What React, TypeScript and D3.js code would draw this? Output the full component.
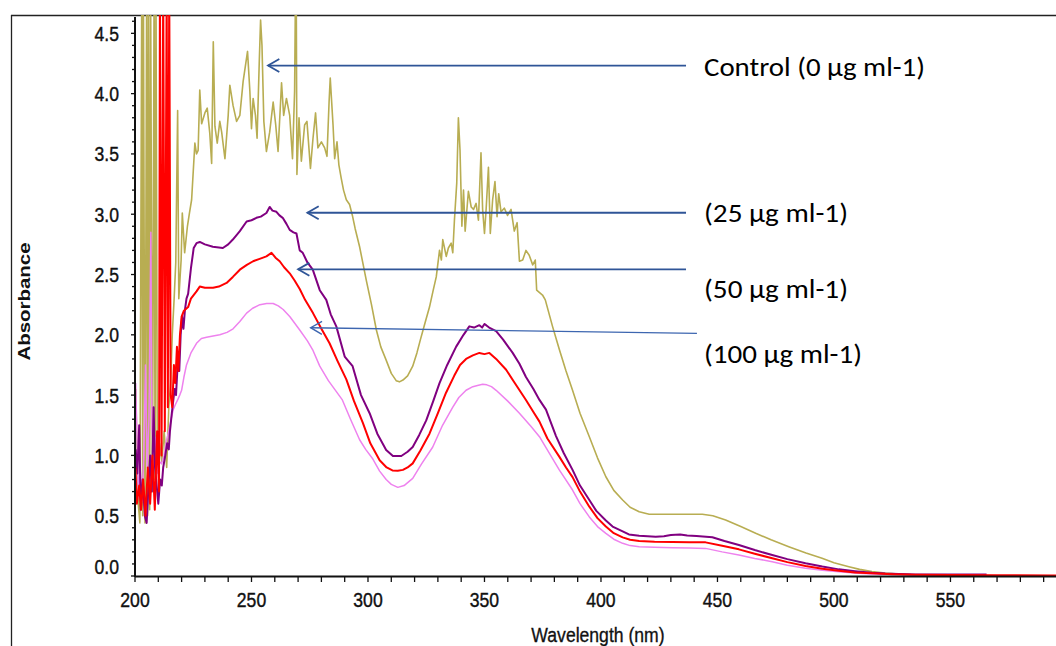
import React from "react";
import * as d3 from "d3";

// ---------- DATA (wavelength nm, absorbance) ----------
const control: [number, number][] = [
  [200.3, 1.55], [200.8, 1.1], [201.4, 0.6], [202.1, 0.44], [202.9, 4.9], [203.3, 0.5], [203.6, 4.9], [204.3, 0.44],
  [205.0, 4.9], [205.4, 0.5], [205.8, 4.9], [206.3, 0.55], [206.7, 4.9], [207.5, 0.7], [208.2, 4.9], [208.6, 0.8],
  [209.0, 4.9], [209.6, 0.9], [210.5, 1.1],
  [211.5, 0.95], [212.5, 1.2], [213.6, 0.9], [214.5, 1.4], [215.3, 1.6], [216.0, 2.0], [216.8, 2.3],
  [217.5, 2.6], [218.3, 3.86], [218.8, 2.3], [219.8, 2.62], [220.3, 3.01], [221.3, 2.68], [222.5, 2.9],
  [223.3, 3.0], [224.3, 3.12], [225.7, 3.59], [226.4, 3.5], [227.1, 3.53], [227.8, 4.03], [228.6, 3.75],
  [230.0, 3.84], [231.0, 3.88], [232.1, 3.67], [232.9, 3.42], [233.6, 4.43], [234.3, 3.73], [235.3, 3.59],
  [236.4, 3.77], [237.2, 3.68], [238.6, 3.46], [240.0, 3.82], [240.7, 4.07], [242.1, 3.9], [243.6, 3.77],
  [245.0, 3.82], [246.4, 4.1], [248.3, 4.35], [249.3, 4.02], [250.0, 3.71], [250.7, 3.96], [251.7, 3.82],
  [252.4, 3.63], [253.3, 4.24], [253.9, 4.61], [254.5, 4.4], [255.3, 3.77], [256.4, 3.52], [257.8, 3.68],
  [259.3, 3.93], [260.4, 3.74], [261.4, 3.52], [262.9, 4.09], [263.8, 3.82], [265.0, 3.96], [266.4, 3.82],
  [267.6, 3.46], [268.5, 4.02], [268.9, 4.9], [269.2, 4.9], [269.5, 3.33], [270.4, 3.8], [271.4, 3.44],
  [272.8, 3.74], [273.8, 3.77], [275.3, 3.38], [276.4, 3.63], [277.5, 3.84], [278.5, 3.55], [280.0, 3.6],
  [281.4, 3.55], [282.4, 3.48], [283.3, 3.93], [283.8, 4.13], [285.0, 3.74], [285.7, 3.46], [286.7, 3.6],
  [287.5, 3.41], [288.5, 3.3], [289.5, 3.2], [290.7, 3.12], [292.1, 3.08], [293.3, 2.99], [294.5, 2.88],
  [296.4, 2.73], [299.3, 2.45], [301.5, 2.25], [303.6, 2.04], [305.5, 1.9], [307.8, 1.79], [310.0, 1.68],
  [312.1, 1.62], [313.5, 1.61], [315.0, 1.625], [317.0, 1.66], [319.2, 1.74], [321.0, 1.85], [322.5, 1.96],
  [324.5, 2.1], [326.4, 2.23], [328.0, 2.37], [329.3, 2.48], [330.7, 2.7], [331.5, 2.62], [332.1, 2.79],
  [333.6, 2.65], [334.5, 2.72], [335.7, 2.76], [336.4, 2.68], [337.1, 2.95], [338.1, 3.26], [338.8, 3.8],
  [339.5, 3.53], [340.3, 2.9], [341.0, 3.2], [341.7, 2.86], [343.1, 3.19], [344.3, 3.06], [345.3, 3.04],
  [346.4, 3.09], [347.4, 2.95], [348.5, 3.51], [349.2, 3.04], [350.0, 2.84], [350.7, 3.04], [351.7, 3.39],
  [352.5, 2.84], [353.5, 3.12], [354.5, 3.27], [355.4, 2.98], [356.1, 3.17], [357.1, 3.02], [358.5, 3.05],
  [359.9, 2.99], [361.4, 3.04], [362.8, 2.86], [364.0, 2.93], [365.0, 2.61], [366.4, 2.62], [367.8, 2.7],
  [369.2, 2.66], [370.7, 2.58], [371.8, 2.62], [372.4, 2.37], [374.9, 2.33], [376.1, 2.29], [379.2, 2.07],
  [382.1, 1.88], [385.0, 1.7], [387.8, 1.54], [391.0, 1.35], [395.0, 1.155], [398.5, 0.98], [402.1, 0.823],
  [405.5, 0.71], [409.3, 0.63], [412.5, 0.57], [416.4, 0.533], [420.7, 0.512], [430.7, 0.512], [443.5, 0.512],
  [448.0, 0.5], [453.5, 0.464], [460.0, 0.41], [466.4, 0.354], [473.0, 0.3], [480.6, 0.243], [488.0, 0.19],
  [494.9, 0.147], [500.0, 0.11], [506.4, 0.077], [511.0, 0.055], [516.3, 0.036], [522.0, 0.025],
  [527.8, 0.017], [533.0, 0.012],
];

const conc25: [number, number][] = [
  [200.3, 1.05], [201.0, 0.85], [201.8, 1.25], [202.5, 0.55], [203.3, 0.8], [204.2, 0.5], [205.0, 0.44],
  [205.8, 0.75], [206.5, 1.0], [207.2, 0.7], [208.0, 1.4], [208.6, 0.9], [209.3, 0.75], [210.0, 0.6],
  [210.8, 0.8], [211.5, 0.75], [212.1, 0.9], [213.0, 1.0], [213.8, 1.1], [214.5, 1.05], [215.0, 1.2],
  [215.8, 1.35], [216.4, 1.45], [217.0, 1.55], [217.6, 1.5], [218.3, 1.75], [219.0, 1.7], [219.6, 2.0],
  [220.2, 2.15], [220.8, 2.05], [221.4, 2.2], [222.1, 2.3], [222.8, 2.34], [224.0, 2.55], [225.2, 2.72],
  [226.4, 2.76], [227.8, 2.77], [230.0, 2.75], [233.4, 2.73], [237.7, 2.72], [240.0, 2.75], [242.0, 2.79],
  [245.0, 2.86], [247.9, 2.94], [250.0, 2.95], [252.1, 2.97], [254.0, 2.98], [256.4, 3.01], [257.8, 3.06],
  [259.0, 3.03], [260.7, 3.02], [262.0, 2.99], [263.4, 2.97], [265.0, 2.92], [266.4, 2.87], [268.0, 2.85],
  [269.3, 2.84], [270.7, 2.7], [272.0, 2.68], [274.0, 2.6], [276.3, 2.54], [279.3, 2.37], [282.1, 2.29],
  [284.0, 2.17], [286.4, 2.07], [290.0, 1.82], [293.4, 1.74], [297.0, 1.5], [300.7, 1.35], [304.0, 1.18],
  [307.8, 1.045], [310.7, 0.995], [314.3, 0.995], [317.0, 1.03], [319.2, 1.07], [322.0, 1.17], [325.0, 1.29],
  [328.0, 1.45], [330.7, 1.6], [334.0, 1.75], [337.8, 1.9], [341.0, 2.0], [343.5, 2.07], [345.5, 2.06],
  [347.8, 2.08], [349.0, 2.06], [350.0, 2.09], [350.7, 2.08], [352.0, 2.06], [355.0, 2.03], [358.0, 1.96],
  [362.1, 1.85], [365.0, 1.76], [367.8, 1.65], [371.0, 1.55], [373.6, 1.46], [376.4, 1.38], [380.7, 1.16],
  [384.0, 1.02], [387.8, 0.88], [391.0, 0.75], [395.0, 0.63], [398.0, 0.54], [402.1, 0.46], [405.0, 0.41],
  [409.3, 0.37], [412.0, 0.345], [416.4, 0.334], [420.0, 0.33], [423.5, 0.326], [427.0, 0.33], [430.0, 0.34],
  [434.0, 0.345], [437.0, 0.335], [441.0, 0.332], [447.8, 0.321], [453.0, 0.29], [459.2, 0.257], [466.0, 0.215],
  [473.5, 0.174], [480.0, 0.14], [487.8, 0.105], [495.0, 0.078], [502.1, 0.055], [509.0, 0.04], [516.3, 0.027],
  [522.0, 0.02], [527.8, 0.017], [535.0, 0.013], [545.0, 0.012], [555.0, 0.012], [565.5, 0.012],
];

const conc50: [number, number][] = [
  [200.2, 0.9], [200.8, 0.6], [201.8, 0.75], [202.6, 0.55], [203.5, 0.8], [204.5, 0.5], [205.5, 0.9],
  [206.5, 0.6], [207.5, 1.0], [208.5, 0.55], [209.5, 1.2], [210.3, 0.7], [210.7, 4.9], [211.4, 1.0],
  [212.1, 4.9], [212.8, 1.2], [213.6, 4.9], [214.1, 1.4], [214.7, 4.9], [215.3, 1.5], [216.0, 1.4],
  [216.7, 1.75], [217.3, 1.6], [218.0, 1.9], [218.6, 1.7], [219.3, 2.0], [220.0, 2.15], [221.0, 2.2],
  [222.8, 2.23], [224.0, 2.3], [226.4, 2.36], [227.8, 2.4], [230.0, 2.39], [233.5, 2.39], [236.0, 2.4],
  [239.3, 2.43], [242.0, 2.48], [245.0, 2.54], [248.0, 2.58], [250.7, 2.61], [253.5, 2.63], [256.4, 2.65],
  [258.6, 2.68], [260.3, 2.64], [262.1, 2.61], [264.0, 2.56], [266.4, 2.51], [268.5, 2.45], [270.7, 2.38],
  [273.0, 2.29], [276.4, 2.18], [280.0, 2.05], [283.5, 1.93], [287.0, 1.78], [290.7, 1.63], [294.0, 1.45],
  [297.8, 1.27], [301.0, 1.1], [305.0, 0.96], [308.0, 0.9], [310.5, 0.875], [312.8, 0.873], [315.0, 0.88],
  [317.0, 0.9], [319.2, 0.934], [322.5, 1.04], [326.4, 1.18], [330.0, 1.35], [333.5, 1.52], [337.0, 1.66],
  [339.5, 1.75], [342.1, 1.8], [345.0, 1.83], [347.8, 1.85], [350.0, 1.84], [352.1, 1.85], [355.0, 1.8],
  [359.3, 1.71], [363.0, 1.6], [367.8, 1.46], [371.0, 1.36], [373.6, 1.28], [377.0, 1.14], [382.1, 0.99],
  [385.0, 0.9], [387.8, 0.82], [391.0, 0.7], [395.0, 0.575], [398.5, 0.48], [402.1, 0.41], [405.5, 0.355],
  [409.3, 0.32], [412.5, 0.3], [416.4, 0.29], [423.0, 0.283], [430.7, 0.282], [438.0, 0.28], [444.9, 0.279],
  [452.0, 0.25], [459.2, 0.221], [466.0, 0.185], [473.5, 0.147], [480.0, 0.115], [487.8, 0.083], [495.0, 0.06],
  [502.1, 0.044], [509.0, 0.03], [516.3, 0.022], [525.0, 0.015], [535.0, 0.01], [550.0, 0.008], [570.0, 0.006],
  [596.0, 0.005],
];

const conc100: [number, number][] = [
  [200.3, 1.6], [200.9, 1.1], [201.5, 0.65], [202.2, 0.9], [203.0, 0.62], [203.8, 1.0], [204.5, 1.75],
  [205.2, 0.9], [206.0, 1.3], [206.8, 2.85], [207.3, 1.2], [208.2, 1.0], [209.0, 1.15], [209.8, 0.85],
  [210.5, 0.95], [211.4, 0.93], [212.5, 1.0], [213.6, 1.13], [214.5, 1.2], [215.5, 1.3], [216.4, 1.38],
  [217.3, 1.42], [218.3, 1.46], [219.2, 1.5], [220.0, 1.54], [221.0, 1.65], [222.1, 1.75], [224.0, 1.85],
  [226.4, 1.93], [228.5, 1.97], [230.7, 1.98], [233.5, 1.99], [236.4, 2.0], [239.5, 2.02], [242.1, 2.05],
  [245.0, 2.11], [247.9, 2.18], [250.5, 2.22], [253.6, 2.25], [256.5, 2.26], [259.3, 2.26], [261.5, 2.24],
  [263.6, 2.21], [266.5, 2.15], [270.7, 2.04], [274.0, 1.95], [276.4, 1.87], [279.3, 1.74], [283.0, 1.62],
  [289.0, 1.46], [292.5, 1.3], [296.4, 1.13], [299.0, 1.05], [302.1, 0.97], [305.0, 0.87], [307.8, 0.8],
  [310.0, 0.76], [312.8, 0.735], [315.5, 0.75], [319.2, 0.81], [323.0, 0.93], [327.8, 1.07], [332.0, 1.25],
  [336.4, 1.4], [339.0, 1.48], [342.1, 1.54], [345.0, 1.57], [347.0, 1.58], [349.2, 1.59], [351.0, 1.585],
  [353.0, 1.57], [355.0, 1.54], [360.0, 1.45], [365.0, 1.35], [370.0, 1.24], [373.6, 1.155], [376.4, 1.065],
  [382.1, 0.88], [387.8, 0.713], [391.0, 0.6], [395.0, 0.49], [398.5, 0.41], [402.1, 0.354], [405.5, 0.305],
  [409.3, 0.271], [412.5, 0.252], [416.4, 0.243], [423.0, 0.238], [430.7, 0.235], [438.0, 0.232], [444.9, 0.229],
  [452.0, 0.2], [459.2, 0.174], [466.0, 0.146], [473.5, 0.119], [480.0, 0.09], [487.8, 0.064], [495.0, 0.048],
  [502.1, 0.036], [509.0, 0.025], [516.3, 0.017], [525.0, 0.012], [535.0, 0.01],
];

const seriesColors = ["#b8ad52", "#800080", "#ff0000", "#ee82ee"];
const seriesWidths = [1.6, 2, 2, 1.5];

const xTickValues = [200, 250, 300, 350, 400, 450, 500, 550];
const yTickValues = [0, 0.5, 1, 1.5, 2, 2.5, 3, 3.5, 4, 4.5];

const annotationLabels = ["Control (0 µg ml-1)", "(25 µg ml-1)", "(50 µg ml-1)", "(100 µg ml-1)"];
// arrow tips and tails in data units (wavelength nm, absorbance)
const arrowTip: [number, number][] = [[257.1, 4.233], [274.0, 3.012], [270.0, 2.543], [275.4, 2.059]];
const arrowTail: [number, number][] = [[436.5, 4.233], [436.5, 3.012], [436.5, 2.543], [441.2, 2.012]];
const labelBaseline = [4.146, 2.935, 2.305, 1.766];
const labelWidths = [221, 144, 144, 158];

// ---------- LAYOUT ----------
const W = 1056;
const H = 646;
const plotLeft = 135;
const plotRight = 1056;
const plotTop = 15;
const plotBottom = 576;

export default function App() {
  const x = d3.scaleLinear().domain([200, 595.3]).range([plotLeft, plotRight]);
  const y = d3.scaleLinear().domain([0, 4.652]).range([plotBottom, plotTop]);

  const line = d3
    .line<[number, number]>()
    .x((d) => x(d[0]))
    .y((d) => y(d[1]));

  const allSeries = [control, conc100, conc25, conc50];
  const order = [0, 3, 1, 2];

  const xMinor = d3.range(200, 596, 10);
  const yMinor = d3.range(0, 46.5, 1).map((v) => v / 10);

  const tickFont = "'Liberation Sans', Arial, sans-serif";
  const annFont = "Carlito, Calibri, Lato, 'Open Sans', sans-serif";

  return (
    <svg
      width={W}
      height={H}
      style={{ position: "fixed", left: 0, top: 0, background: "#fff" }}
    >
      <rect x={0} y={0} width={W} height={H} fill="#fff" />
      <defs>
        <clipPath id="plotClip">
          <rect x={plotLeft} y={plotTop} width={plotRight - plotLeft} height={plotBottom - plotTop} />
        </clipPath>
      </defs>

      {/* outer frame */}
      <line x1={11} y1={15.5} x2={W} y2={15.5} stroke="#222" strokeWidth={1.3} />
      <line x1={11.5} y1={15} x2={11.5} y2={H} stroke="#222" strokeWidth={1.3} />

      {/* series */}
      <g clipPath="url(#plotClip)">
        {allSeries.map((s, i) => (
          <path
            key={i}
            d={line(s) || ""}
            fill="none"
            stroke={seriesColors[order[i]]}
            strokeWidth={seriesWidths[order[i]]}
            strokeLinejoin="round"
          />
        ))}
      </g>

      {/* axes */}
      <line x1={plotLeft} y1={plotTop + 2} x2={plotLeft} y2={plotBottom + 1} stroke="#111" strokeWidth={2} />
      <line x1={plotLeft} y1={plotBottom + 0.5} x2={plotRight} y2={plotBottom + 0.5} stroke="#111" strokeWidth={2} />

      {yMinor.map((v, i) => (
        <line
          key={"ym" + i}
          x1={plotLeft - (i % 5 === 0 ? 4 : 3)}
          x2={plotLeft}
          y1={y(v)}
          y2={y(v)}
          stroke="#111"
          strokeWidth={1.3}
        />
      ))}
      {xMinor.map((v, i) => (
        <line
          key={"xm" + i}
          x1={x(v)}
          x2={x(v)}
          y1={plotBottom}
          y2={plotBottom + 6}
          stroke="#111"
          strokeWidth={1.3}
        />
      ))}

      {yTickValues.map((v) => (
        <text
          key={"yt" + v}
          transform={`translate(${plotLeft - 16},${y(v) + 7.5 - (v === 0 ? 10 : 0)}) scale(1,1.2)`}
          textAnchor="end"
          fontFamily={tickFont}
          fontSize={17.6}
          fill="#111"
          stroke="#111"
          strokeWidth={0.35}
        >
          {v.toFixed(1)}
        </text>
      ))}
      {xTickValues.map((v) => (
        <text
          key={"xt" + v}
          transform={`translate(${x(v)},${plotBottom + 31}) scale(1,1.2)`}
          textAnchor="middle"
          fontFamily={tickFont}
          fontSize={17.6}
          fill="#111"
          stroke="#111"
          strokeWidth={0.35}
        >
          {v}
        </text>
      ))}

      {/* axis titles */}
      <text
        transform={`translate(30,${(plotTop + plotBottom) / 2 + 6}) rotate(-90)`}
        textAnchor="middle"
        fontFamily={tickFont}
        fontWeight="bold"
        fontSize={16.5}
        textLength={118}
        lengthAdjust="spacingAndGlyphs"
        fill="#111"
      >
        Absorbance
      </text>
      <text
        transform={`translate(${x(400) - 3},${H - 4}) scale(1,1.2)`}
        textAnchor="middle"
        fontFamily={tickFont}
        fontSize={17.6}
        fill="#111"
        stroke="#111"
        strokeWidth={0.3}
      >
        Wavelength (nm)
      </text>

      {/* annotations */}
      {annotationLabels.map((lab, i) => {
        const tx = x(arrowTip[i][0]);
        const ty = y(arrowTip[i][1]);
        const ex = x(arrowTail[i][0]);
        const ey = y(arrowTail[i][1]);
        const ang = Math.atan2(ey - ty, ex - tx);
        const L = 13;
        const spread = 0.52;
        const p1 = [tx + L * Math.cos(ang + spread), ty + L * Math.sin(ang + spread)];
        const p2 = [tx + L * Math.cos(ang - spread), ty + L * Math.sin(ang - spread)];
        const col = i === 3 ? "#3d66b0" : "#2f5597";
        const sw = i === 3 ? 1.4 : 1.8;
        return (
          <g key={"ann" + i}>
            <line x1={ex} y1={ey} x2={tx} y2={ty} stroke={col} strokeWidth={sw} />
            <polyline
              points={`${p1[0]},${p1[1]} ${tx},${ty} ${p2[0]},${p2[1]}`}
              fill="none"
              stroke={col}
              strokeWidth={sw}
            />
            <text
              x={704}
              y={y(labelBaseline[i])}
              fontFamily={annFont}
              fontSize={27}
              textLength={labelWidths[i]}
              lengthAdjust="spacingAndGlyphs"
              fill="#000"
            >
              {lab}
            </text>
          </g>
        );
      })}
    </svg>
  );
}
